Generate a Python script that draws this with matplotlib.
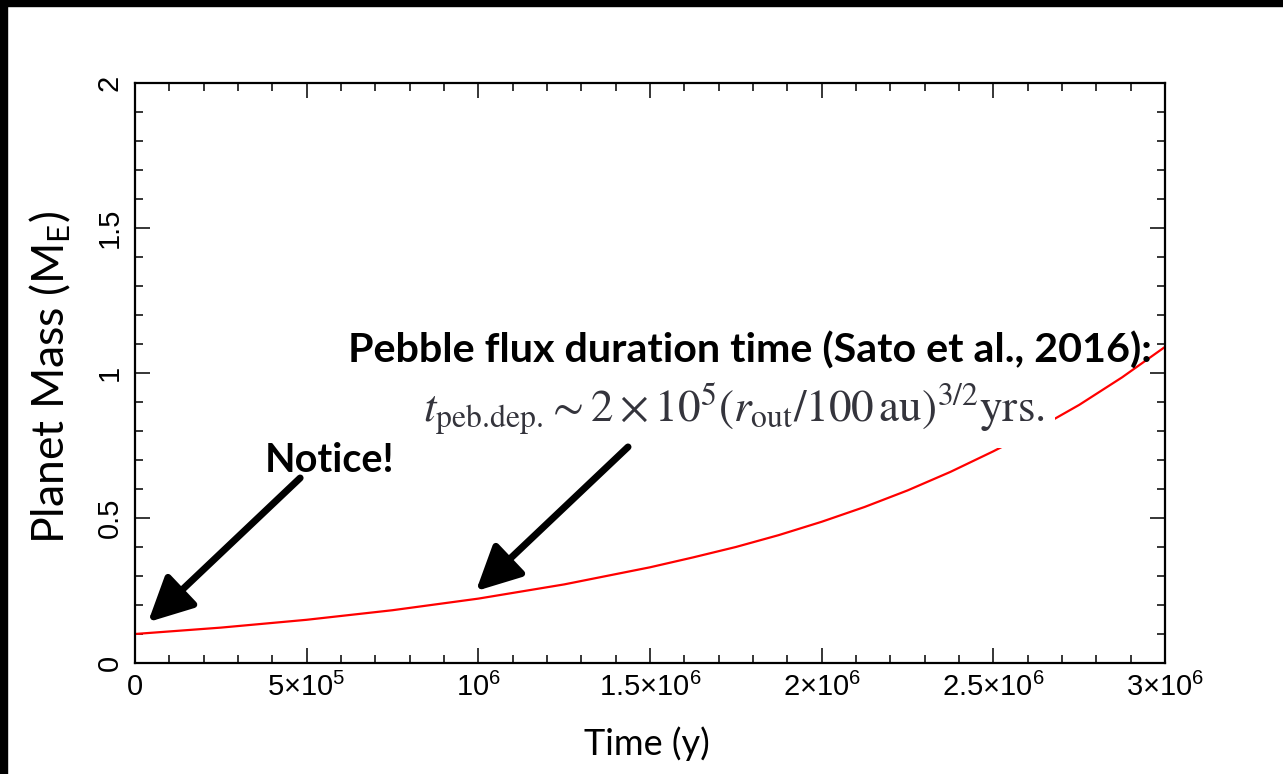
import matplotlib
matplotlib.use("Agg")
import matplotlib.pyplot as plt
from matplotlib.patches import Rectangle
from matplotlib.ticker import MultipleLocator, FixedLocator

# values (time in years, mass in Earth masses)
time_y = [0.0, 2.5e5, 5.0e5, 7.5e5, 1.0e6, 1.25e6, 1.5e6, 1.625e6, 1.75e6, 1.875e6,
          2.0e6, 2.125e6, 2.25e6, 2.375e6, 2.5e6, 2.625e6, 2.75e6, 2.875e6, 3.0e6]
mass_me = [0.100, 0.122, 0.149, 0.182, 0.222, 0.271, 0.330, 0.364, 0.400, 0.441,
           0.487, 0.538, 0.595, 0.659, 0.730, 0.806, 0.890, 0.985, 1.090]

xtick_pos = [0, 5e5, 1e6, 1.5e6, 2e6, 2.5e6, 3e6]
xtick_lab = ["0", r"$5{\times}10^5$", r"$10^6$", r"$1.5{\times}10^6$",
             r"$2{\times}10^6$", r"$2.5{\times}10^6$", r"$3{\times}10^6$"]
ytick_pos = [0, 0.5, 1, 1.5, 2]
ytick_lab = ["0", "0.5", "1", "1.5", "2"]

# arrows: (tail, tip) in data units
arrows = [((4.81e5, 0.638), (3.8e4, 0.141)),
          ((1.436e6, 0.745), (9.93e5, 0.248))]

plt.rcParams['mathtext.fontset'] = 'custom'
plt.rcParams['mathtext.rm'] = 'Liberation Sans'
plt.rcParams['mathtext.it'] = 'Liberation Sans:italic'

W, H = 1283, 774
fig = plt.figure(figsize=(W / 100, H / 100), dpi=100, facecolor='white')
# black slide edges
fig.patches.append(Rectangle((0, 0), 7 / W, 1, transform=fig.transFigure,
                             color='black', zorder=0))
fig.patches.append(Rectangle((0, 1 - 6 / H), 1, 6 / H, transform=fig.transFigure,
                             color='black', zorder=0))

ax = fig.add_axes([135 / W, 1 - 663 / H, 1030 / W, 580 / H])
ax.plot(time_y, mass_me, color='red', lw=1.6, zorder=2)

ax.set_xlim(0, 3e6)
ax.set_ylim(0, 2)
ax.xaxis.set_major_locator(FixedLocator(xtick_pos))
ax.set_xticklabels(xtick_lab, fontfamily='Liberation Sans', fontsize=21)
ax.xaxis.set_minor_locator(MultipleLocator(1e5))
ax.yaxis.set_major_locator(FixedLocator(ytick_pos))
ax.set_yticklabels(ytick_lab, fontfamily='Liberation Sans', fontsize=21,
                   rotation=90, va='center')
ax.yaxis.set_minor_locator(MultipleLocator(0.1))
ax.tick_params(which='both', direction='in', top=True, right=True, width=1.1,
               color='black')
ax.tick_params(which='major', length=11)
ax.tick_params(which='minor', length=6)
ax.tick_params(axis='x', pad=7)
ax.tick_params(axis='y', pad=8)
for s in ax.spines.values():
    s.set_linewidth(1.6)

ax.set_xlabel("Time (y)", fontfamily='Lato', fontsize=26, va='center')
ax.xaxis.set_label_coords((647 - 135) / 1030, (663 - 744) / 580)
ax.set_ylabel(r"Planet Mass (M$\mathregular{_E}$)", fontfamily='Lato', fontsize=32)
ax.yaxis.set_label_coords((73 - 135) / 1030, (663 - 378) / 580)

# annotations
ax.text((750 - 135) / 1030, (663 - 351) / 580,
        "Pebble flux duration time (Sato et al., 2016):",
        transform=ax.transAxes, ha='center', va='center', fontfamily='Lato',
        fontweight='bold', fontsize=29.7, zorder=6)
ax.text((734 - 135) / 1030, (663 - 410) / 580,
        r"$t_{\rm peb.\!dep.\!} \sim 2\times10^5(r_{\rm out}/100\,{\rm au})^{3/2}{\rm yrs.}$",
        transform=ax.transAxes, ha='center', va='center', fontsize=32.5,
        math_fontfamily='stix', color='#34343c', zorder=5,
        bbox=dict(facecolor='white', edgecolor='none', pad=7))
ax.text((330 - 135) / 1030, (663 - 460) / 580, "Notice!",
        transform=ax.transAxes, ha='center', va='center', fontfamily='Lato',
        fontweight='bold', fontsize=28.5, zorder=6)

for tail, tip in arrows:
    ax.annotate("", xy=tip, xytext=tail,
                arrowprops=dict(arrowstyle='-|>,head_length=1.0,head_width=0.5',
                                lw=5, color='black', shrinkA=0, shrinkB=0,
                                mutation_scale=27),
                zorder=7)

fig.savefig("out.png", dpi=100, facecolor=fig.get_facecolor())
